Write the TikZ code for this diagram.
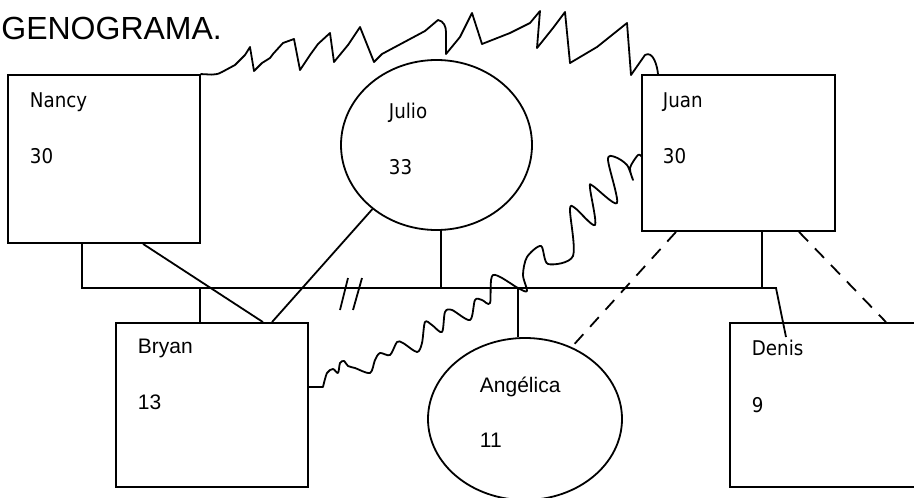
\documentclass[tikz,border=0pt]{standalone}
\usepackage{fontspec}
\setmainfont{Liberation Sans}
\newfontfamily\tah[FakeStretch=0.9]{DejaVu Sans}
\usetikzlibrary{shapes.geometric}
\begin{document}
\begin{tikzpicture}[x=1pt,y=-1pt,line width=1.8pt,
  sqbox/.style={draw,rectangle,inner sep=0pt,line width=1.8pt},
  circbox/.style={draw,ellipse,inner sep=0pt,line width=1.8pt},
  tahtxt/.style={anchor=base west,inner sep=0pt,font=\tah\fontsize{20.3}{24}\selectfont},
  arialtxt/.style={anchor=base west,inner sep=0pt,font=\fontsize{21}{24}\selectfont},
  wave/.style={line width=1.8pt,line join=round,line cap=round},
  dashline/.style={line width=1.8pt,dash pattern=on 13pt off 10pt}]
\useasboundingbox (0,0) rectangle (914,498);

% title
\node[anchor=base west,inner sep=0pt,font=\fontsize{32}{36}\selectfont] (title) at (0.5,39) {GENOGRAMA.};

% shapes
\node[sqbox,minimum width=192pt,minimum height=168pt] (nancy) at (104,159) {};
\node[sqbox,minimum width=193pt,minimum height=156pt] (juan) at (738.5,153) {};
\node[sqbox,minimum width=192pt,minimum height=164pt] (bryan) at (212,405) {};
\node[sqbox,minimum width=200pt,minimum height=164pt] (denis) at (830,405) {};
\node[circbox,minimum width=191pt,minimum height=170pt] (julio) at (436.5,145) {};
\node[circbox,minimum width=194pt,minimum height=162pt] (angelica) at (525,419) {};

% texts
\node[tahtxt] (tnancy) at (29,107) {Nancy};
\node[tahtxt] (anancy) at (29,163) {30};
\node[tahtxt] (tjulio) at (388,118) {Julio};
\node[tahtxt] (ajulio) at (388,174) {33};
\node[tahtxt] (tjuan) at (662,107) {Juan};
\node[tahtxt] (ajuan) at (662,163) {30};
\node[tahtxt] (tdenis) at (751,355) {Denis};
\node[tahtxt] (adenis) at (751,412) {9};
\node[arialtxt] (tbryan) at (137,353) {Bryan};
\node[arialtxt] (abryan) at (137,409) {13};
\node[arialtxt] (tang) at (479,392) {Angélica};
\node[arialtxt] (aang) at (479,447) {11};

% sibling / family line
\coordinate (bl) at (82,288);
\coordinate (br) at (776,288);
\coordinate (dend) at (786,337);
\draw (82,0 |- nancy.south) -- (bl) -- (br) -- (dend);
\draw (762,0 |- juan.south) -- (762,288);
\draw (441,0 |- julio.south) -- (441,288);
\draw (200,288) -- (200,0 |- bryan.north);
\draw (518,288) -- (518,0 |- angelica.north);

% diagonals to Bryan
\draw (143,0 |- nancy.south) -- (263,0 |- bryan.north);
\draw (julio.225) -- (272,0 |- bryan.north);

% dashed lines from Juan
\draw[dashline] (676,0 |- juan.south) -- (angelica.57);
\draw[dashline] (799,0 |- juan.south) -- (886,0 |- denis.north);

% break marks
\coordinate (m1a) at (348,278); \coordinate (m1b) at (340,310);
\coordinate (m2a) at (362,278); \coordinate (m2b) at (353,310);
\draw (m1a) -- (m1b);
\draw (m2a) -- (m2b);

% top wavy line Nancy - Juan
\draw[wave] (nancy.north east) to[out=0,in=-150] (222,72) -- (235,65) -- (245,55) -- (250,47) -- (254,71) -- (262,63) -- (270,58) -- (273,54) -- (283,43) -- (294,39) -- (300,70) -- (310,55) -- (318,44) -- (330,33) -- (334,62) -- (348,45) -- (360,27) -- (374,62) -- (382,54) -- (425,31) -- (438,20) to[out=-10,in=90] (446,32) -- (446,54) -- (460,37) -- (472,13) -- (482,44) -- (510,33) -- (530,23) -- (540,11) -- (537,48) -- (553,28) -- (565,12) -- (570,63) -- (597,47) -- (627,23) -- (631,75) -- (645,55) to[out=30,in=95] (658,0 |- juan.north);

% lower wavy line Bryan - Juan
\draw[wave] (bryan.east |- 0,387) -- (323,387) plot[smooth,tension=0.5] coordinates {(323,387) (327,373) (333,369) (338,373) (340,363) (344,361) (348,366) (355,368) (370,373) (375,360) (380,353) (390,355) (397,342) (403,343) (417,352) (422,343) (425,322) (432,325) (442,332) (445,312) (452,310) (470,320) (475,300) (482,300) (490,303) (493,275) (518,288) (527,291) (523,275) (527,257) (541,246) (548,264) (573,256) (570,210) (575,208) (595,225) (590,188) (593,186) (617,203) (608,160) (615,157) (627,165) (633,180) (630,168) (638,155) (642,157)};
\end{tikzpicture}
\end{document}
